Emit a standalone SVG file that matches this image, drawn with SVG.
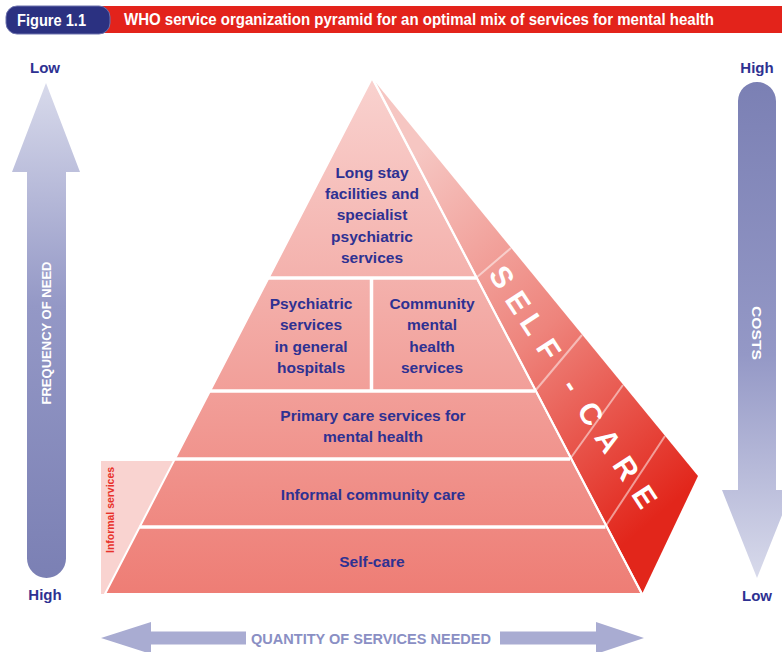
<svg xmlns="http://www.w3.org/2000/svg" width="782" height="652" viewBox="0 0 782 652">
<style>
.t{font-family:"Liberation Sans","Noto Sans",sans-serif;font-weight:bold;}
.n{font-family:"Liberation Sans Narrow","Liberation Sans","DejaVu Sans Condensed",sans-serif;font-weight:bold;}
.lab{fill:#2e3192;font-size:15.5px;text-anchor:middle;}
.end{fill:#2e3192;font-size:15px;text-anchor:middle;}
.sep{stroke:#ffffff;stroke-width:3.5;fill:none;}
.sdiv{stroke:#ffffff;stroke-opacity:0.5;stroke-width:2;fill:none;}
</style>
<defs>
<linearGradient id="gFront" x1="0" y1="78" x2="0" y2="594" gradientUnits="userSpaceOnUse">
<stop offset="0" stop-color="#f9d2cf"/>
<stop offset="0.45" stop-color="#f3aca7"/>
<stop offset="1" stop-color="#ee7d75"/>
</linearGradient>
<linearGradient id="gSide" x1="420" y1="150" x2="700" y2="480" gradientUnits="userSpaceOnUse">
<stop offset="0" stop-color="#f6c6c2"/>
<stop offset="0.5" stop-color="#ee847c"/>
<stop offset="1" stop-color="#e2261b"/>
</linearGradient>
<linearGradient id="gUp" x1="0" y1="83" x2="0" y2="578" gradientUnits="userSpaceOnUse">
<stop offset="0" stop-color="#d8daeb"/>
<stop offset="0.45" stop-color="#9498c6"/>
<stop offset="1" stop-color="#7b80b4"/>
</linearGradient>
<linearGradient id="gDown" x1="0" y1="82" x2="0" y2="578" gradientUnits="userSpaceOnUse">
<stop offset="0" stop-color="#7b80b4"/>
<stop offset="0.55" stop-color="#9498c6"/>
<stop offset="1" stop-color="#d8daeb"/>
</linearGradient>
</defs>

<g id="header">
<rect x="92" y="6" width="690" height="27" fill="#e3231b"/>
<rect x="6" y="6" width="104" height="28" rx="11" fill="#2b3181" stroke="#6d72ad" stroke-width="1"/>
<text class="n" x="17" y="25.5" font-size="16" fill="#ffffff" textLength="69" lengthAdjust="spacingAndGlyphs">Figure 1.1</text>
<text class="n" x="124" y="25" font-size="16" fill="#ffffff" textLength="590" lengthAdjust="spacingAndGlyphs">WHO service organization pyramid for an optimal mix of services for mental health</text>
</g>

<g id="frequency-arrow">
<path d="M46,83 L80,172 L66,172 L66,558.5 A19.5,19.5 0 0 1 27,558.5 L27,172 L12,172 Z" fill="url(#gUp)"/>
<text class="n" transform="translate(51,333) rotate(-90)" font-size="13.5" fill="#ffffff" text-anchor="middle" textLength="143" lengthAdjust="spacingAndGlyphs">FREQUENCY OF NEED</text>
<text class="t end" x="45" y="73">Low</text>
<text class="t end" x="45" y="600">High</text>
</g>

<g id="costs-arrow">
<path d="M738,101 A19,19 0 0 1 776,101 L776,490 L792,490 L757,578 L722,490 L738,490 Z" fill="url(#gDown)"/>
<text class="n" transform="translate(752,333) rotate(90)" font-size="13.5" fill="#ffffff" text-anchor="middle" textLength="54" lengthAdjust="spacingAndGlyphs">COSTS</text>
<text class="t end" x="757" y="73">High</text>
<text class="t end" x="757" y="601">Low</text>
</g>

<g id="informal-services">
<rect x="101" y="461" width="82" height="133" fill="#f9d3d0"/>
<text class="n" transform="translate(114,510) rotate(-90)" font-size="10" fill="#e8312a" text-anchor="middle" textLength="86" lengthAdjust="spacingAndGlyphs">Informal services</text>
</g>

<g id="pyramid-side">
<polygon points="372,78 698,476 642,594" fill="url(#gSide)"/>
<line class="sdiv" x1="476" y1="278" x2="511" y2="248"/>
<line class="sdiv" x1="535" y1="391" x2="582" y2="335"/>
<line class="sdiv" x1="570" y1="459" x2="623" y2="385"/>
<line class="sdiv" x1="605" y1="527" x2="665" y2="436"/>
<text class="t" transform="translate(502,277) rotate(57)" font-size="30" fill="#ffffff" text-anchor="middle" dominant-baseline="central" x="0 30 56 86 129 163 195 228 262">SELF-CARE</text>
</g>

<g id="pyramid-front">
<polygon points="372,78 105,594 642,594" fill="url(#gFront)" stroke="#ffffff" stroke-width="2" stroke-linejoin="round"/>
</g>

<g id="tier-long-stay">
<text class="t lab" x="372" y="177.5">Long stay</text>
<text class="t lab" x="372" y="198.5">facilities and</text>
<text class="t lab" x="372" y="219.5">specialist</text>
<text class="t lab" x="372" y="241.5">psychiatric</text>
<text class="t lab" x="372" y="262.5">services</text>
</g>

<g id="tier-general-hospitals">
<text class="t lab" x="311" y="308.5">Psychiatric</text>
<text class="t lab" x="311" y="330">services</text>
<text class="t lab" x="311" y="352">in general</text>
<text class="t lab" x="311" y="373">hospitals</text>
</g>

<g id="tier-community-mental-health">
<text class="t lab" x="432" y="308.5">Community</text>
<text class="t lab" x="432" y="330">mental</text>
<text class="t lab" x="432" y="352">health</text>
<text class="t lab" x="432" y="373">services</text>
</g>

<g id="tier-primary-care">
<text class="t lab" x="373" y="420.5">Primary care services for</text>
<text class="t lab" x="373" y="441.5">mental health</text>
</g>

<g id="tier-informal-community">
<text class="t lab" x="373" y="499.5">Informal community care</text>
</g>

<g id="tier-self-care">
<text class="t lab" x="372" y="566.5">Self-care</text>
</g>

<g id="connectors">
<line class="sep" x1="268" y1="278" x2="476" y2="278"/>
<line class="sep" x1="210" y1="391" x2="535" y2="391"/>
<line class="sep" x1="175" y1="459" x2="570" y2="459"/>
<line class="sep" x1="139.5" y1="527" x2="605.5" y2="527"/>
<line class="sep" x1="371.5" y1="278" x2="371.5" y2="391"/>
<line x1="373" y1="79" x2="642" y2="594" stroke="#ffffff" stroke-width="2"/>
</g>

<g id="quantity-arrow">
<polygon points="101,638 151,622 151,631.5 246,631.5 246,644.5 151,644.5 151,654" fill="#a9acd2"/>
<polygon points="644,638 596,622 596,631.5 500,631.5 500,644.5 596,644.5 596,654" fill="#a9acd2"/>
<text class="n" x="371" y="644" font-size="14.5" fill="#8a8fc4" text-anchor="middle" textLength="240" lengthAdjust="spacingAndGlyphs">QUANTITY OF SERVICES NEEDED</text>
</g>
</svg>
